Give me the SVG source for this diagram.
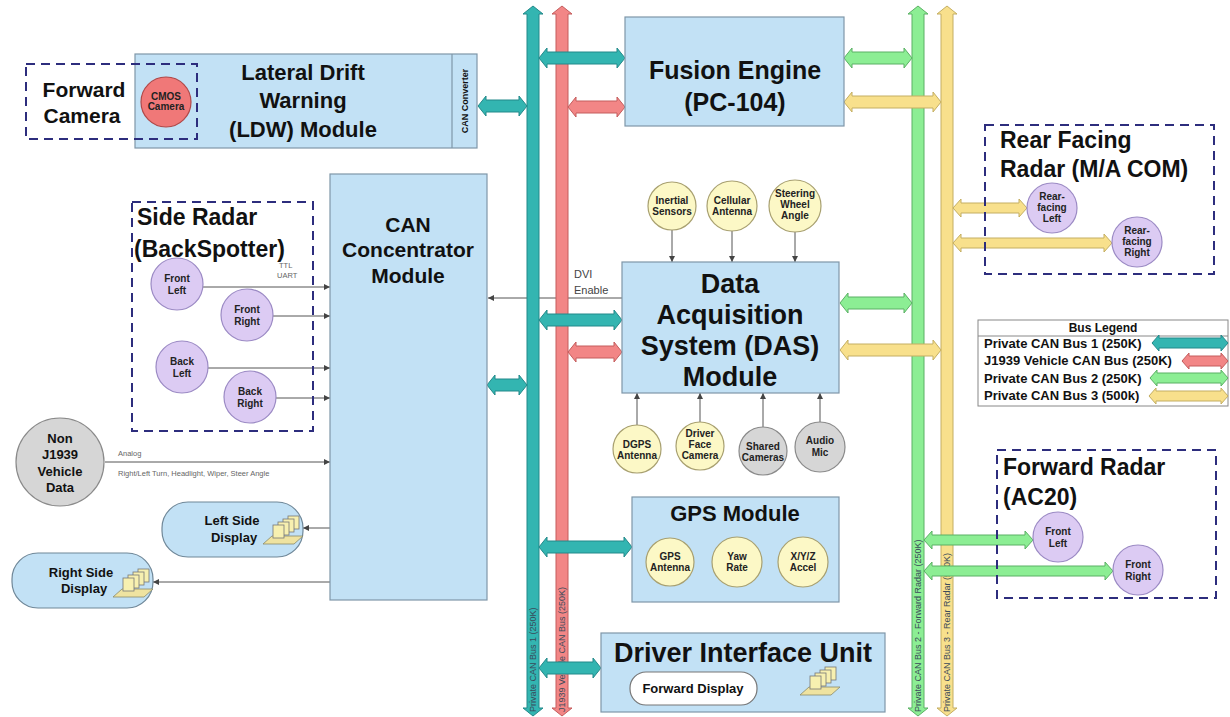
<svg xmlns="http://www.w3.org/2000/svg" width="1230" height="717" viewBox="0 0 1230 717">
<style>
.box{fill:#c2e1f5;stroke:#7f97a8;stroke-width:1.2}
.dash{fill:none;stroke:#2d2d7d;stroke-width:2;stroke-dasharray:9 6}
.t{font-family:"Liberation Sans",Arial,sans-serif;font-weight:bold;fill:#111;text-anchor:middle}
.tl{font-family:"Liberation Sans",Arial,sans-serif;font-weight:bold;fill:#111}
.c{font-family:"Liberation Sans",Arial,sans-serif;font-weight:bold;fill:#222;text-anchor:middle;font-size:10px}
.lav{fill:#dccbf3;stroke:#9b8ac4;stroke-width:1.2}
.ylw{fill:#fcf8c6;stroke:#a8a070;stroke-width:1.2}
.gry{fill:#d6d6d6;stroke:#8a8a8a;stroke-width:1.2}
.ln{stroke:#555;stroke-width:1;fill:none;marker-end:url(#ah)}
.teal{fill:#33b5b1;stroke:#23898a}
.red{fill:#f28686;stroke:#c45c5c}
.grn{fill:#8cee94;stroke:#5bb064}
.yel{fill:#f8e08c;stroke:#c4ae62}
.sm{font-family:"Liberation Sans",Arial,sans-serif;fill:#666;font-size:7.5px}
.bl{font-family:"Liberation Sans",Arial,sans-serif;fill:#3a4a5a;font-size:9px}
.pill{fill:#c2e1f5;stroke:#6f8798;stroke-width:1.2}
</style>
<defs>
<marker id="ah" markerWidth="6" markerHeight="6" refX="6" refY="3" orient="auto" markerUnits="userSpaceOnUse"><path d="M0,0 L6,3 L0,6 z" fill="#444"/></marker>
<g id="mon">
<polygon points="0,30 9,22 40,22 31,30" fill="#efe3a0" stroke="#8a8a6a" stroke-width="0.8"/>
<rect x="25" y="2" width="11" height="13" fill="#f7f0b0" stroke="#777" stroke-width="0.8"/>
<rect x="20" y="5" width="11" height="13" fill="#f7f0b0" stroke="#777" stroke-width="0.8"/>
<rect x="15" y="8" width="11" height="13" fill="#f7f0b0" stroke="#777" stroke-width="0.8"/>
<rect x="10" y="11" width="11" height="13" fill="#f7f0b0" stroke="#777" stroke-width="0.8"/>
</g>
</defs>
<rect width="1230" height="717" fill="#ffffff"/>

<g id="connectors">
<!-- thin signal lines -->
<line class="ln" x1="622" y1="298" x2="488" y2="298"/>
<line class="ln" x1="203" y1="287" x2="330" y2="287"/>
<line class="ln" x1="273" y1="316" x2="330" y2="316"/>
<line class="ln" x1="208" y1="368" x2="330" y2="368"/>
<line class="ln" x1="276" y1="398" x2="330" y2="398"/>
<line class="ln" x1="105" y1="462" x2="330" y2="462"/>
<line class="ln" x1="330" y1="528" x2="303" y2="528"/>
<line class="ln" x1="330" y1="582" x2="153" y2="582"/>
<line class="ln" x1="672" y1="230" x2="672" y2="262"/>
<line class="ln" x1="732" y1="230" x2="732" y2="262"/>
<line class="ln" x1="795" y1="230" x2="795" y2="262"/>
<line class="ln" x1="637" y1="425" x2="637" y2="393"/>
<line class="ln" x1="700" y1="422" x2="700" y2="393"/>
<line class="ln" x1="763" y1="427" x2="763" y2="393"/>
<line class="ln" x1="820" y1="422" x2="820" y2="393"/>
<!-- vertical buses -->
<polygon class="teal" points="533,6 543,14 539,14 539,708 543,708 533,716 523,708 527,708 527,14 523,14"/>
<polygon class="red" points="562,6 572,14 568,14 568,708 572,708 562,716 552,708 556,708 556,14 552,14"/>
<polygon class="grn" points="918,6 928,14 924,14 924,708 928,708 918,716 908,708 912,708 912,14 908,14"/>
<polygon class="yel" points="947,6 957,14 953,14 953,708 957,708 947,716 937,708 941,708 941,14 937,14"/>
<text class="bl" transform="translate(536,712) rotate(-90)">Private CAN Bus 1 (250K)</text>
<text class="bl" transform="translate(565,712) rotate(-90)">J1939 Vehicle CAN Bus (250K)</text>
<text class="bl" transform="translate(921,712) rotate(-90)">Private CAN Bus 2 - Forward Radar (250K)</text>
<text class="bl" transform="translate(950,712) rotate(-90)">Private CAN Bus 3 - Rear Radar (500K)</text>
<!-- horizontal bus taps -->
<polygon class="teal" points="478,106 486,96 486,100 519,100 519,96 527,106 519,116 519,112 486,112 486,116"/>
<polygon class="teal" points="539,58 547,48 547,52 617,52 617,48 625,58 617,68 617,64 547,64 547,68"/>
<polygon class="red" points="568,107 576,97 576,101 617,101 617,97 625,107 617,117 617,113 576,113 576,117"/>
<polygon class="grn" points="844,58 852,48 852,52 904,52 904,48 912,58 904,68 904,64 852,64 852,68"/>
<polygon class="yel" points="844,102 852,92 852,96 933,96 933,92 941,102 933,112 933,108 852,108 852,112"/>
<polygon class="teal" points="539,320 547,310 547,314 614,314 614,310 622,320 614,330 614,326 547,326 547,330"/>
<polygon class="red" points="568,352 576,342 576,346 614,346 614,342 622,352 614,362 614,358 576,358 576,362"/>
<polygon class="grn" points="840,303 848,293 848,297 904,297 904,293 912,303 904,313 904,309 848,309 848,313"/>
<polygon class="yel" points="840,350 848,340 848,344 933,344 933,340 941,350 933,360 933,356 848,356 848,360"/>
<polygon class="teal" points="487,385 495,375 495,379 519,379 519,375 527,385 519,395 519,391 495,391 495,395"/>
<polygon class="teal" points="539,547 547,537 547,541 624,541 624,537 632,547 624,557 624,553 547,553 547,557"/>
<polygon class="teal" points="539,668 547,658 547,662 593,662 593,658 601,668 593,678 593,674 547,674 547,678"/>
<polygon class="yel" points="953,208 961,199 961,203 1019,203 1019,199 1027,208 1019,217 1019,213 961,213 961,217"/>
<polygon class="yel" points="953,243 961,234 961,238 1104,238 1104,234 1112,243 1104,252 1104,248 961,248 961,252"/>
<polygon class="grn" points="924,540 932,531 932,535 1025,535 1025,531 1033,540 1025,549 1025,545 932,545 932,549"/>
<polygon class="grn" points="924,571 932,562 932,566 1105,566 1105,562 1113,571 1105,580 1105,576 932,576 932,580"/>
</g>

<g id="ldw">
<rect class="box" x="135" y="54" width="342" height="94"/>
<line x1="452" y1="54" x2="452" y2="148" stroke="#7f97a8" stroke-width="1.2"/>
<text class="t" font-size="22" x="303" y="80">Lateral Drift</text>
<text class="t" font-size="22" x="303" y="108">Warning</text>
<text class="t" font-size="22" x="303" y="137">(LDW) Module</text>
<text class="t" font-size="9" transform="translate(468,101) rotate(-90)">CAN Converter</text>
</g>

<g id="forward-camera">
<rect class="dash" x="26" y="64" width="171" height="75"/>
<text class="t" font-size="21" x="84" y="97">Forward</text>
<text class="t" font-size="21" x="82" y="123">Camera</text>
<circle cx="166" cy="102" r="25" fill="#f07878" stroke="#b04848" stroke-width="1.2"/>
<text class="c" font-size="8" x="166" y="100">CMOS</text>
<text class="c" font-size="8" x="166" y="110">Camera</text>
</g>

<g id="fusion-engine">
<rect class="box" x="625" y="17" width="219" height="109"/>
<text class="t" font-size="25" x="735" y="79">Fusion Engine</text>
<text class="t" font-size="25" x="735" y="111">(PC-104)</text>
</g>

<g id="can-concentrator">
<rect class="box" x="330" y="174" width="157" height="426"/>
<text class="t" font-size="21" x="408" y="232">CAN</text>
<text class="t" font-size="21" x="408" y="257">Concentrator</text>
<text class="t" font-size="21" x="408" y="283">Module</text>
</g>

<g id="side-radar">
<rect class="dash" x="132" y="202" width="181" height="229"/>
<text class="tl" font-size="23" x="137" y="225">Side Radar</text>
<text class="tl" font-size="23" x="134" y="257">(BackSpotter)</text>
<text class="sm" x="279" y="268">TTL</text>
<text class="sm" x="277" y="278">UART</text>
<circle class="lav" cx="177" cy="284" r="26"/>
<text class="c" x="177" y="282">Front</text><text class="c" x="177" y="294">Left</text>
<circle class="lav" cx="247" cy="315" r="26"/>
<text class="c" x="247" y="313">Front</text><text class="c" x="247" y="325">Right</text>
<circle class="lav" cx="182" cy="367" r="26"/>
<text class="c" x="182" y="365">Back</text><text class="c" x="182" y="377">Left</text>
<circle class="lav" cx="250" cy="397" r="26"/>
<text class="c" x="250" y="395">Back</text><text class="c" x="250" y="407">Right</text>
</g>

<g id="non-j1939">
<circle class="gry" cx="60" cy="462" r="44"/>
<text class="t" font-size="13" x="60" y="443">Non</text>
<text class="t" font-size="13" x="60" y="459">J1939</text>
<text class="t" font-size="13" x="60" y="476">Vehicle</text>
<text class="t" font-size="13" x="60" y="492">Data</text>
<text class="sm" x="118" y="456">Analog</text>
<text class="sm" x="118" y="476">Right/Left Turn, Headlight, Wiper, Steer Angle</text>
</g>

<g id="left-side-display">
<rect class="pill" x="162" y="502" width="141" height="55" rx="26"/>
<text class="t" font-size="13" x="232" y="525">Left Side</text>
<text class="t" font-size="13" x="234" y="542">Display</text>
<use href="#mon" x="263" y="514"/>
</g>

<g id="right-side-display">
<rect class="pill" x="12" y="553" width="141" height="55" rx="26"/>
<text class="t" font-size="13" x="81" y="577">Right Side</text>
<text class="t" font-size="13" x="84" y="593">Display</text>
<use href="#mon" x="113" y="567"/>
</g>

<g id="das">
<rect class="box" x="622" y="262" width="217" height="131"/>
<text class="t" font-size="27" x="730" y="293">Data</text>
<text class="t" font-size="27" x="730" y="324">Acquisition</text>
<text class="t" font-size="27" x="730" y="355">System (DAS)</text>
<text class="t" font-size="27" x="730" y="386">Module</text>
<text font-family="Liberation Sans, Arial, sans-serif" font-size="11" fill="#444" x="574" y="278">DVI</text>
<text font-family="Liberation Sans, Arial, sans-serif" font-size="11" fill="#444" x="574" y="294">Enable</text>
</g>

<g id="das-sensors-top">
<circle class="ylw" cx="672" cy="206" r="24"/>
<text class="c" font-size="9" x="672" y="204">Inertial</text><text class="c" font-size="9" x="672" y="215">Sensors</text>
<circle class="ylw" cx="732" cy="206" r="25"/>
<text class="c" font-size="9" x="732" y="204">Cellular</text><text class="c" font-size="9" x="732" y="215">Antenna</text>
<circle class="ylw" cx="795" cy="206" r="26"/>
<text class="c" font-size="9" x="795" y="197">Steering</text><text class="c" font-size="9" x="795" y="208">Wheel</text><text class="c" font-size="9" x="795" y="219">Angle</text>
</g>

<g id="das-sensors-bottom">
<circle class="ylw" cx="637" cy="449" r="24"/>
<text class="c" font-size="9" x="637" y="448">DGPS</text><text class="c" font-size="9" x="637" y="459">Antenna</text>
<circle class="ylw" cx="700" cy="446" r="24"/>
<text class="c" font-size="9" x="700" y="437">Driver</text><text class="c" font-size="9" x="700" y="448">Face</text><text class="c" font-size="9" x="700" y="459">Camera</text>
<circle class="gry" cx="763" cy="451" r="24"/>
<text class="c" font-size="8.5" x="763" y="450">Shared</text><text class="c" font-size="8.5" x="763" y="461">Cameras</text>
<circle class="gry" cx="820" cy="447" r="25"/>
<text class="c" font-size="9" x="820" y="444">Audio</text><text class="c" font-size="9" x="820" y="456">Mic</text>
</g>

<g id="gps-module">
<rect class="box" x="632" y="497" width="207" height="105"/>
<text class="t" font-size="22" x="735" y="521">GPS Module</text>
<circle class="ylw" cx="670" cy="562" r="24"/>
<text class="c" font-size="9" x="670" y="560">GPS</text><text class="c" font-size="9" x="670" y="571">Antenna</text>
<circle class="ylw" cx="737" cy="562" r="25"/>
<text class="c" font-size="9" x="737" y="560">Yaw</text><text class="c" font-size="9" x="737" y="571">Rate</text>
<circle class="ylw" cx="803" cy="562" r="25"/>
<text class="c" font-size="9" x="803" y="560">X/Y/Z</text><text class="c" font-size="9" x="803" y="571">Accel</text>
</g>

<g id="driver-interface-unit">
<rect class="box" x="601" y="633" width="284" height="79"/>
<text class="t" font-size="27" x="743" y="662">Driver Interface Unit</text>
<rect x="630" y="672" width="127" height="33" rx="16" fill="#ffffff" stroke="#777" stroke-width="1.2"/>
<text class="t" font-size="13" x="693" y="693">Forward Display</text>
<use href="#mon" x="800" y="665"/>
</g>

<g id="rear-facing-radar">
<rect class="dash" x="985" y="125" width="229" height="149"/>
<text class="tl" font-size="23" x="1000" y="148">Rear Facing</text>
<text class="tl" font-size="23" x="1000" y="177">Radar (M/A COM)</text>
<circle class="lav" cx="1052" cy="208" r="25"/>
<text class="c" font-size="9.5" x="1052" y="200">Rear-</text><text class="c" font-size="9.5" x="1052" y="211">facing</text><text class="c" font-size="9.5" x="1052" y="222">Left</text>
<circle class="lav" cx="1137" cy="242" r="25"/>
<text class="c" font-size="9.5" x="1137" y="234">Rear-</text><text class="c" font-size="9.5" x="1137" y="245">facing</text><text class="c" font-size="9.5" x="1137" y="256">Right</text>
</g>

<g id="forward-radar">
<rect class="dash" x="997" y="450" width="219" height="148"/>
<text class="tl" font-size="23" x="1003" y="475">Forward Radar</text>
<text class="tl" font-size="23" x="1003" y="505">(AC20)</text>
<circle class="lav" cx="1058" cy="537" r="25"/>
<text class="c" x="1058" y="535">Front</text><text class="c" x="1058" y="547">Left</text>
<circle class="lav" cx="1138" cy="570" r="25"/>
<text class="c" x="1138" y="568">Front</text><text class="c" x="1138" y="580">Right</text>
</g>

<g id="bus-legend">
<rect x="978" y="320" width="250" height="86" fill="#ffffff" stroke="#888" stroke-width="1"/>
<line x1="978" y1="336" x2="1228" y2="336" stroke="#888" stroke-width="1"/>
<text class="t" font-size="12" x="1103" y="332">Bus Legend</text>
<text class="tl" font-size="13" x="984" y="348">Private CAN Bus 1 (250K)</text>
<text class="tl" font-size="13" x="984" y="365">J1939 Vehicle CAN Bus (250K)</text>
<text class="tl" font-size="13" x="984" y="383">Private CAN Bus 2 (250K)</text>
<text class="tl" font-size="13" x="984" y="400">Private CAN Bus 3 (500k)</text>
<polygon class="teal" points="1152,343 1159,335 1159,338 1221,338 1221,335 1228,343 1221,351 1221,348 1159,348 1159,351"/>
<polygon class="red" points="1182,361 1189,353 1189,356 1221,356 1221,353 1228,361 1221,369 1221,366 1189,366 1189,369"/>
<polygon class="grn" points="1150,378 1157,370 1157,373 1221,373 1221,370 1228,378 1221,386 1221,383 1157,383 1157,386"/>
<polygon class="yel" points="1149,396 1156,388 1156,391 1221,391 1221,388 1228,396 1221,404 1221,401 1156,401 1156,404"/>
</g>
</svg>
